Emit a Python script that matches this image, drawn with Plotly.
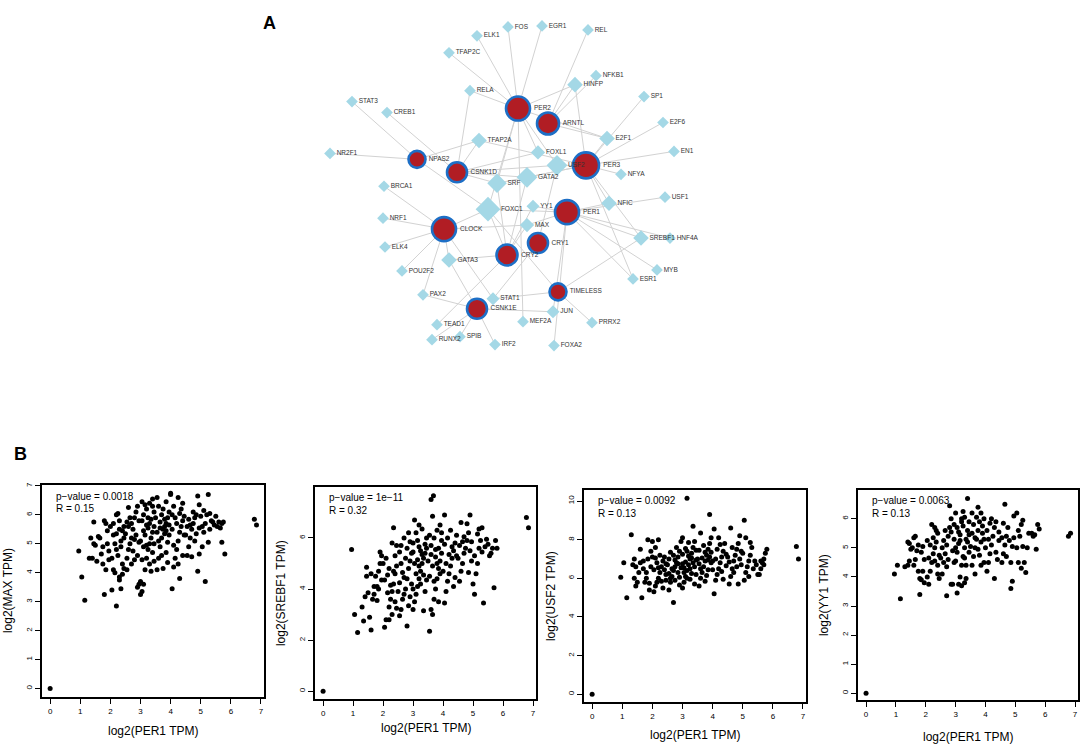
import plotly.graph_objects as go

W, H = 1084, 745
FONT = "Liberation Sans, Arial, sans-serif"

# ---------------- panel A: network ----------------
genes = ["PER2", "ARNTL", "PER3", "NPAS2", "CSNK1D", "PER1", "CLOCK",
         "CRY1", "CRY2", "TIMELESS", "CSNK1E"]
gene_x = [518, 548, 586, 417, 457, 567, 444, 538, 507, 558, 477]
gene_y = [106, 121, 163, 157, 170, 210, 227, 241, 253, 290, 307]
gene_size = [24, 22, 26, 17, 20, 24, 24, 20, 21, 17, 20]

tfs = ["FOS", "EGR1", "ELK1", "REL", "TFAP2C", "NFKB1", "HINFP", "RELA",
       "STAT3", "SP1", "CREB1", "E2F6", "TFAP2A", "E2F1", "NR2F1", "FOXL1",
       "EN1", "USF2", "NFYA", "BRCA1", "SRF", "GATA2", "FOXC1", "YY1",
       "NFIC", "USF1", "NRF1", "MAX", "ELK4", "SREBF1", "HNF4A", "GATA3",
       "POU2F2", "MYB", "ESR1", "PAX2", "STAT1", "JUN", "TEAD1", "MEF2A",
       "PRRX2", "RUNX2", "SPIB", "IRF2", "FOXA2"]
tf_x = [508, 542, 477, 588, 449, 596, 575, 470, 352, 644, 387, 663, 479,
        607, 330, 538, 674, 557, 621, 384, 497, 527, 488, 533, 609, 665,
        383, 527, 385, 641, 670, 449, 402, 657, 633, 423, 493, 553, 437,
        523, 592, 432, 460, 495, 554]
tf_y = [24, 23, 33, 27, 50, 73, 82, 88, 99, 94, 110, 120, 138, 136, 151,
        150, 149, 163, 172, 184, 181, 175, 207, 204, 201, 195, 216, 223,
        245, 236, 236, 258, 269, 268, 277, 293, 297, 310, 323, 320, 321,
        338, 335, 343, 344]
tf_size = [9, 9, 9, 9, 9, 9, 12, 9, 9, 9, 9, 9, 12, 12, 9, 11, 9, 16, 9,
           9, 15, 16, 19, 10, 12, 9, 9, 11, 9, 12, 9, 12, 9, 9, 9, 9, 10,
           10, 9, 9, 9, 9, 9, 9, 9]

edges = [
    ("FOS", "PER2"), ("EGR1", "PER2"), ("ELK1", "PER2"), ("REL", "ARNTL"),
    ("TFAP2C", "PER2"), ("RELA", "CSNK1D"), ("RELA", "PER2"),
    ("STAT3", "NPAS2"), ("CREB1", "CSNK1D"), ("HINFP", "PER2"),
    ("HINFP", "ARNTL"), ("HINFP", "PER3"), ("NFKB1", "ARNTL"),
    ("SP1", "PER3"), ("E2F6", "PER3"), ("E2F1", "ARNTL"), ("E2F1", "PER2"),
    ("E2F1", "PER3"), ("EN1", "PER3"), ("NR2F1", "NPAS2"),
    ("TFAP2A", "NPAS2"), ("TFAP2A", "PER3"), ("TFAP2A", "CSNK1D"),
    ("FOXL1", "PER2"), ("FOXL1", "CSNK1D"), ("USF2", "PER2"),
    ("USF2", "CSNK1D"), ("USF2", "PER3"), ("USF2", "CRY1"),
    ("NFYA", "PER3"), ("BRCA1", "CLOCK"), ("SRF", "PER2"),
    ("SRF", "CSNK1D"), ("SRF", "CRY2"), ("SRF", "PER3"), ("GATA2", "PER3"),
    ("GATA2", "CSNK1D"), ("GATA2", "CRY2"), ("FOXC1", "CLOCK"),
    ("FOXC1", "CRY2"), ("FOXC1", "TIMELESS"), ("FOXC1", "PER1"),
    ("FOXC1", "NPAS2"), ("FOXC1", "PER2"), ("YY1", "PER1"), ("YY1", "CRY2"),
    ("NFIC", "PER1"), ("NFIC", "PER3"), ("USF1", "PER1"), ("NRF1", "CLOCK"),
    ("MAX", "CLOCK"), ("MAX", "PER1"), ("MAX", "CRY2"), ("ELK4", "CLOCK"),
    ("SREBF1", "PER1"), ("SREBF1", "TIMELESS"), ("SREBF1", "PER3"),
    ("HNF4A", "PER1"), ("GATA3", "CRY2"), ("GATA3", "CLOCK"),
    ("GATA3", "CSNK1E"), ("POU2F2", "CLOCK"), ("MYB", "PER1"),
    ("ESR1", "PER1"), ("ESR1", "PER3"), ("PAX2", "CLOCK"),
    ("PAX2", "CSNK1E"), ("STAT1", "TIMELESS"), ("STAT1", "CRY1"),
    ("STAT1", "CLOCK"), ("JUN", "CSNK1E"), ("JUN", "PER1"),
    ("TEAD1", "CRY2"), ("MEF2A", "PER2"), ("PRRX2", "TIMELESS"),
    ("RUNX2", "CSNK1E"), ("SPIB", "CSNK1E"), ("IRF2", "CSNK1E"),
    ("FOXA2", "PER1"),
]

# ---------------- panel B: correlation scatters ----------------
max_pts = [
    (0, 0), (0.95, 4.75), (1.05, 3.85), (1.15, 3.05), (6.78, 5.85), (6.85, 5.65),
    (1.3, 4.5), (1.4, 4.5), (1.45, 5.75), (1.45, 5.0), (1.5, 4.95), (1.35, 5.2),
    (1.55, 4.4), (1.6, 5.25), (1.65, 5.2), (1.7, 4.65), (1.75, 4.3), (1.8, 5.8),
    (1.85, 5.7), (1.8, 3.25), (1.9, 5.0), (1.95, 4.75), (1.9, 5.45), (1.95, 4.45),
    (1.75, 4.9), (1.85, 4.1), (2.0, 5.6),
    (2.2, 2.85), (2.05, 3.4), (2.1, 4.1), (2.15, 4.0), (2.35, 3.45), (2.3, 3.85),
    (2.4, 3.95), (2.2, 6.0), (2.25, 6.05), (2.1, 5.3), (2.15, 5.0), (2.2, 4.8),
    (2.05, 4.5), (2.3, 5.5), (2.35, 5.1), (2.45, 4.15), (2.4, 4.3), (2.3, 5.8),
    (2.45, 5.6), (2.4, 5.45), (2.25, 4.6), (2.35, 4.9), (2.1, 5.7), (2.45, 5.2),
    (2.3, 3.75), (2.2, 5.35),
    (2.95, 3.6), (2.9, 3.5), (2.55, 4.5), (2.6, 4.8), (2.65, 5.0), (2.7, 5.2),
    (2.75, 5.5), (2.8, 5.9), (2.85, 6.1), (2.6, 6.25), (2.7, 5.7), (2.9, 4.6),
    (2.55, 4.1), (2.8, 4.45), (2.6, 5.6), (2.75, 4.75), (2.85, 5.3), (2.95, 5.8),
    (2.5, 5.35), (2.65, 5.9), (2.9, 6.3), (2.7, 4.3), (2.95, 5.05), (2.55, 5.75),
    (2.8, 5.15),
    (3.0, 3.25), (3.05, 3.35), (3.1, 3.6), (3.0, 3.7), (3.15, 4.1), (3.2, 4.5),
    (3.25, 4.8), (3.3, 5.0), (3.35, 5.2), (3.4, 5.4), (3.45, 5.6), (3.05, 5.8),
    (3.1, 6.0), (3.2, 6.2), (3.3, 6.4), (3.4, 6.55), (3.05, 4.45), (3.1, 4.9),
    (3.15, 5.3), (3.25, 5.55), (3.35, 5.85), (3.45, 6.1), (3.0, 5.1), (3.2, 5.65),
    (3.3, 4.3), (3.4, 4.7), (3.45, 5.0), (3.15, 6.35), (3.25, 5.9), (3.35, 4.05),
    (3.1, 5.45), (3.2, 4.95), (3.45, 4.4), (3.05, 6.45), (3.4, 6.3), (3.3, 5.7),
    (3.55, 4.1), (3.6, 4.5), (3.65, 4.9), (3.7, 5.2), (3.75, 5.5), (3.8, 5.6),
    (3.85, 5.7), (3.9, 5.9), (3.95, 6.1), (3.6, 6.3), (4.0, 6.7), (3.55, 5.4),
    (3.65, 5.75), (3.7, 6.0), (3.8, 5.35), (3.85, 4.7), (3.9, 4.35), (3.95, 5.3),
    (3.6, 5.1), (3.75, 6.2), (3.85, 6.45), (3.55, 6.6), (3.7, 4.6), (3.9, 5.05),
    (3.65, 5.55), (3.8, 5.85), (3.95, 5.65), (3.75, 4.15), (3.5, 5.9), (3.85, 5.45),
    (4.05, 3.45), (4.3, 3.8), (4.1, 4.2), (4.15, 4.5), (4.2, 4.8), (4.25, 5.1),
    (4.3, 5.4), (4.35, 5.6), (4.4, 5.8), (4.05, 6.0), (4.1, 6.3), (4.25, 6.6),
    (4.0, 6.75), (4.45, 5.3), (4.2, 5.7), (4.35, 6.2), (4.05, 5.5), (4.4, 4.6),
    (4.15, 5.9), (4.3, 6.05), (4.45, 5.95), (4.1, 4.95), (4.25, 4.3), (4.4, 6.4),
    (4.9, 4.05), (4.55, 4.6), (4.6, 4.9), (4.65, 5.2), (4.7, 5.5), (4.75, 5.7),
    (4.8, 5.9), (4.85, 6.0), (4.9, 6.65), (4.95, 6.35), (4.55, 5.6), (4.6, 5.85),
    (4.7, 4.55), (4.85, 5.35), (4.95, 4.65), (4.5, 5.3), (4.75, 6.1), (4.65, 5.65),
    (4.95, 5.55), (4.8, 5.1),
    (5.15, 3.7), (5.05, 4.9), (5.1, 5.4), (5.15, 5.7), (5.2, 6.0), (5.3, 6.05),
    (5.35, 5.8), (5.25, 5.05), (5.25, 6.7), (5.0, 5.95), (5.05, 5.6), (5.3, 5.5),
    (5.4, 5.75), (5.45, 5.65), (5.1, 6.15),
    (5.55, 5.6), (5.6, 5.75), (5.7, 5.7), (5.7, 5.05), (5.8, 4.65), (5.65, 5.55),
    (5.75, 5.75), (5.5, 5.95),
]

srebf1_pts = [
    (0, 0), (0.95, 5.55), (1.05, 3.0), (1.15, 2.3), (6.78, 6.8), (6.85, 6.4),
    (1.35, 2.75), (1.3, 3.3), (1.4, 3.7), (1.45, 4.5), (1.45, 4.85), (1.5, 3.85),
    (1.6, 2.4), (1.55, 2.9), (1.65, 3.6), (1.7, 4.1), (1.8, 4.1), (1.75, 4.5),
    (1.85, 4.7), (1.9, 5.0), (1.95, 5.3), (1.9, 5.45), (1.7, 3.8), (1.85, 4.0),
    (1.95, 4.35), (1.6, 4.6), (1.8, 3.55),
    (2.05, 2.5), (2.1, 2.8), (2.2, 2.8), (2.2, 3.3), (2.25, 3.6), (2.3, 3.9),
    (2.35, 4.2), (2.4, 4.6), (2.45, 4.9), (2.1, 5.2), (2.3, 5.8), (2.35, 6.4),
    (2.3, 3.0), (2.15, 3.85), (2.05, 4.35), (2.2, 4.8), (2.4, 5.3), (2.45, 5.7),
    (2.0, 5.0), (2.25, 4.15), (2.4, 3.5), (2.15, 4.55), (2.35, 4.7), (2.45, 3.25),
    (2.8, 2.55), (2.55, 2.95), (2.6, 3.2), (2.65, 3.6), (2.7, 3.8), (2.75, 4.0),
    (2.8, 4.4), (2.85, 4.8), (2.9, 5.1), (2.95, 5.4), (2.6, 5.7), (2.7, 6.0),
    (2.85, 6.2), (2.55, 4.25), (2.65, 4.65), (2.75, 5.2), (2.9, 3.7), (2.95, 4.2),
    (2.6, 5.0), (2.8, 5.6), (2.5, 3.9), (2.7, 4.45), (2.9, 5.85), (2.55, 5.45),
    (2.85, 3.35),
    (3.0, 3.2), (3.05, 3.5), (3.1, 3.8), (3.15, 4.1), (3.2, 4.4), (3.25, 4.7),
    (3.3, 5.0), (3.35, 5.2), (3.4, 5.4), (3.45, 5.6), (3.0, 5.8), (3.1, 6.2),
    (3.2, 6.5), (3.05, 6.7), (3.1, 4.6), (3.2, 4.9), (3.3, 5.35), (3.4, 5.75),
    (3.45, 4.35), (3.0, 4.0), (3.15, 5.15), (3.25, 5.5), (3.35, 4.55), (3.45, 6.0),
    (3.05, 5.0), (3.3, 6.35), (3.4, 3.9), (3.15, 5.9), (3.25, 4.2), (3.0, 5.45),
    (3.35, 3.15), (3.2, 5.65),
    (3.55, 2.35), (3.65, 3.0), (3.6, 3.2), (3.7, 3.6), (3.75, 4.0), (3.8, 4.4),
    (3.85, 4.8), (3.9, 5.1), (3.95, 5.4), (3.6, 5.7), (3.7, 6.0), (3.8, 6.3),
    (3.65, 6.85), (3.6, 7.5), (3.68, 7.65), (3.55, 4.5), (3.65, 4.9), (3.75, 5.25),
    (3.85, 5.6), (3.95, 5.9), (3.5, 5.1), (3.7, 4.3), (3.9, 4.6), (3.6, 5.35),
    (3.8, 5.0), (3.95, 6.2), (3.55, 6.1), (3.85, 3.5), (3.75, 5.55), (3.9, 6.5),
    (4.05, 3.45), (4.1, 3.9), (4.15, 4.3), (4.2, 4.6), (4.25, 4.9), (4.3, 5.2),
    (4.35, 5.5), (4.4, 5.8), (4.45, 6.1), (4.05, 6.9), (4.1, 5.0), (4.2, 5.35),
    (4.3, 5.65), (4.0, 4.7), (4.4, 4.45), (4.15, 6.0), (4.25, 6.3), (4.45, 5.3),
    (4.05, 5.75), (4.35, 4.1),
    (4.55, 4.3), (4.6, 4.7), (4.65, 5.0), (4.7, 5.4), (4.75, 5.6), (4.8, 5.9),
    (4.85, 6.2), (4.6, 6.6), (4.9, 6.9), (4.95, 5.1), (4.55, 5.7), (4.7, 6.05),
    (4.85, 4.65), (4.9, 5.5), (4.65, 5.85), (4.5, 5.2), (4.8, 6.55), (4.95, 5.85),
    (5.05, 3.8), (5.35, 3.45), (5.1, 4.6), (5.15, 5.0), (5.2, 5.6), (5.25, 5.9),
    (5.3, 6.4), (5.2, 6.35), (5.05, 5.3), (5.3, 5.45), (5.4, 5.65), (5.15, 6.15),
    (5.45, 5.95), (5.0, 4.2),
    (5.7, 4.05), (5.6, 5.4), (5.65, 5.6), (5.55, 5.3), (5.8, 5.6), (5.75, 5.9),
    (5.5, 5.75),
]

usf2_pts = [
    (0, 0), (0.95, 6.05), (1.05, 6.8), (1.15, 5.0), (6.78, 7.65), (6.85, 7.0),
    (1.3, 8.25), (1.4, 6.0), (1.45, 6.6), (1.4, 7.0), (1.45, 5.6), (1.5, 5.8),
    (1.35, 6.7),
    (1.65, 5.0), (1.55, 6.3), (1.6, 6.8), (1.6, 7.5), (1.7, 6.5), (1.75, 5.8),
    (1.8, 6.0), (1.85, 7.0), (1.9, 5.4), (1.95, 6.6), (1.85, 8.0), (1.7, 6.9),
    (1.95, 7.4), (1.8, 6.3), (1.9, 5.75),
    (2.05, 5.3), (2.1, 5.6), (2.15, 5.8), (2.2, 6.0), (2.25, 6.3), (2.3, 6.6),
    (2.35, 6.9), (2.4, 7.1), (2.1, 7.6), (2.0, 7.9), (2.2, 8.0), (2.45, 6.2),
    (2.05, 6.45), (2.15, 6.8), (2.3, 5.85), (2.4, 6.45), (2.45, 6.75), (2.25, 7.2),
    (2.35, 5.5), (2.0, 7.1), (2.2, 6.55), (2.1, 7.05), (2.45, 5.9),
    (2.7, 4.75), (2.55, 5.4), (2.6, 5.8), (2.65, 6.1), (2.7, 6.4), (2.75, 6.6),
    (2.8, 6.8), (2.85, 7.1), (2.9, 7.4), (2.95, 7.9), (2.6, 6.0), (2.65, 6.5),
    (2.75, 5.9), (2.85, 6.3), (2.5, 6.7), (2.55, 7.0), (2.7, 7.2), (2.9, 6.05),
    (2.95, 6.55), (2.8, 7.6), (2.6, 7.35), (2.9, 5.65), (2.75, 6.95), (2.55, 6.25),
    (2.85, 6.75),
    (3.0, 5.5), (3.05, 5.8), (3.1, 6.1), (3.15, 6.4), (3.2, 6.7), (3.25, 7.0),
    (3.3, 7.3), (3.35, 7.6), (3.4, 7.9), (3.0, 8.1), (3.35, 8.7), (3.15, 10.15),
    (3.05, 6.55), (3.1, 6.85), (3.2, 7.15), (3.3, 6.25), (3.4, 6.6), (3.45, 6.95),
    (3.0, 7.25), (3.1, 7.55), (3.25, 5.95), (3.45, 7.45), (3.2, 7.85), (3.05, 6.3),
    (3.35, 6.8), (3.15, 6.0), (3.4, 5.7), (3.25, 6.5), (3.45, 6.2), (3.3, 7.05),
    (3.0, 6.75), (3.15, 7.4),
    (3.55, 5.6), (3.6, 6.0), (3.65, 6.3), (3.7, 6.6), (3.75, 6.9), (3.8, 7.2),
    (3.85, 7.5), (3.9, 7.8), (3.95, 8.1), (3.6, 8.35), (3.9, 9.3), (3.55, 6.75),
    (3.65, 7.05), (3.75, 7.35), (3.85, 6.45), (3.95, 6.8), (3.5, 7.0), (3.7, 7.7),
    (3.8, 6.15), (3.6, 6.5), (3.9, 7.1), (3.55, 7.45), (3.75, 5.85), (3.85, 6.95),
    (3.95, 7.35),
    (4.05, 5.2), (4.1, 5.9), (4.15, 6.2), (4.2, 6.5), (4.25, 6.8), (4.3, 7.1),
    (4.35, 7.4), (4.4, 7.8), (4.05, 8.55), (4.2, 8.1), (4.45, 6.65), (4.1, 7.0),
    (4.3, 6.35), (4.0, 6.9), (4.35, 5.95), (4.15, 7.5), (4.45, 7.25), (4.25, 7.75),
    (4.0, 6.45),
    (4.55, 5.7), (4.6, 6.1), (4.65, 6.5), (4.7, 6.9), (4.75, 7.2), (4.8, 7.5),
    (4.85, 7.8), (4.9, 8.2), (4.6, 8.6), (4.95, 6.7), (4.55, 6.85), (4.7, 6.3),
    (4.85, 5.7), (4.9, 7.0), (4.65, 7.6), (4.5, 7.1), (4.8, 6.6), (4.95, 7.4),
    (5.05, 5.9), (5.1, 6.3), (5.15, 6.6), (5.2, 6.9), (5.25, 7.2), (5.3, 7.6),
    (5.1, 8.1), (5.05, 9.0), (5.35, 6.5), (5.4, 6.9), (5.2, 6.1), (5.45, 6.7),
    (5.0, 7.3), (5.25, 7.85), (5.5, 6.2),
    (5.55, 6.2), (5.6, 6.5), (5.65, 6.8), (5.7, 7.0), (5.75, 7.3), (5.8, 7.5),
    (5.6, 6.9), (5.7, 6.7),
]

yy1_pts = [
    (0, 0), (0.95, 4.1), (1.05, 4.4), (1.15, 3.25), (6.78, 5.4), (6.85, 5.5),
    (1.3, 4.35), (1.4, 4.4), (1.45, 4.55), (1.45, 5.15), (1.5, 4.95), (1.4, 5.2),
    (1.8, 3.4), (1.85, 3.9), (1.8, 3.95), (1.75, 4.2), (1.6, 4.4), (1.65, 4.6),
    (1.7, 4.9), (1.75, 5.1), (1.6, 5.35), (1.65, 5.4), (1.9, 4.2), (1.95, 4.6),
    (1.85, 4.85), (1.9, 5.05), (1.95, 3.8), (1.55, 5.0),
    (2.1, 3.75), (2.05, 4.0), (2.15, 4.2), (2.2, 4.5), (2.25, 4.8), (2.3, 5.0),
    (2.35, 5.2), (2.4, 5.5), (2.2, 5.8), (2.3, 5.7), (2.45, 3.95), (2.4, 4.4),
    (2.1, 4.65), (2.15, 5.1), (2.25, 5.35), (2.45, 4.75), (2.35, 5.6), (2.05, 5.25),
    (2.4, 4.1), (2.3, 4.55),
    (2.7, 3.35), (2.85, 3.75), (2.55, 4.1), (2.6, 4.5), (2.65, 4.8), (2.7, 5.1),
    (2.75, 5.4), (2.8, 5.7), (2.85, 6.0), (2.8, 6.45), (2.6, 5.25), (2.65, 5.6),
    (2.75, 4.6), (2.9, 4.9), (2.95, 5.3), (2.55, 5.0), (2.9, 3.75), (2.95, 5.8),
    (2.7, 4.35), (2.85, 5.55), (2.5, 4.65), (2.95, 4.5),
    (3.05, 3.45), (3.1, 3.75), (3.2, 3.7), (3.15, 4.0), (3.2, 4.4), (3.25, 4.7),
    (3.3, 5.0), (3.35, 5.3), (3.4, 5.6), (3.45, 5.9), (3.0, 6.2), (3.4, 6.7),
    (3.05, 4.85), (3.1, 5.15), (3.15, 5.45), (3.25, 5.75), (3.3, 6.05), (3.0, 4.55),
    (3.35, 4.4), (3.45, 4.85), (3.1, 5.55), (3.2, 5.9), (3.3, 4.65), (3.4, 5.2),
    (3.0, 5.0), (3.25, 6.25), (3.15, 5.25), (3.45, 5.45), (3.05, 5.7), (3.35, 3.95),
    (3.2, 6.0), (3.3, 3.8),
    (3.65, 4.1), (3.55, 4.4), (3.6, 4.7), (3.65, 5.0), (3.7, 5.3), (3.75, 5.6),
    (3.8, 5.9), (3.85, 6.2), (3.75, 6.4), (3.55, 5.5), (3.6, 5.8), (3.7, 6.05),
    (3.8, 4.75), (3.85, 5.2), (3.9, 5.5), (3.95, 4.5), (3.5, 5.05), (3.9, 5.75),
    (3.65, 5.35), (3.95, 6.0), (3.55, 6.2), (3.85, 4.4), (3.75, 4.95), (3.95, 5.3),
    (4.3, 3.95), (4.05, 4.2), (4.1, 4.5), (4.15, 4.8), (4.2, 5.1), (4.25, 5.4),
    (4.3, 5.7), (4.35, 5.9), (4.05, 5.6), (4.4, 4.6), (4.45, 5.25), (4.0, 5.0),
    (4.2, 6.0), (4.1, 5.3), (4.35, 4.85), (4.45, 5.55), (4.15, 5.85),
    (4.85, 3.6), (4.9, 3.85), (4.55, 4.5), (4.6, 4.8), (4.65, 5.1), (4.7, 5.4),
    (4.75, 5.7), (4.65, 6.5), (4.95, 6.1), (4.85, 4.5), (4.9, 5.05), (4.55, 5.35),
    (4.8, 5.25), (4.95, 5.35), (4.6, 5.85), (4.7, 4.7),
    (5.35, 4.15), (5.2, 4.3), (5.1, 4.5), (5.05, 5.0), (5.15, 5.4), (5.2, 5.8),
    (5.05, 6.2), (5.25, 5.05), (5.3, 4.5), (5.1, 5.6), (5.25, 5.95), (5.45, 5.5),
    (5.4, 5.0),
    (5.7, 4.95), (5.6, 5.4), (5.55, 5.5), (5.75, 5.8), (5.8, 5.65), (5.65, 5.45),
]

y_titles = ["log2(MAX TPM)", "log2(SREBF1 TPM)", "log2(USF2 TPM)", "log2(YY1 TPM)"]
p_values = ["0.0018", "1e\u221211", "0.0092", "0.0063"]
r_values = ["0.15", "0.32", "0.13", "0.13"]
y_ranges = [(-0.3, 7.03), (-0.31, 7.99), (-0.41, 10.57), (-0.24, 6.99)]
y_dticks = [1, 2, 2, 1]

# pixel boxes of the four scatter frames: left, right, top, bottom
boxes = [(42, 264, 484, 697), (315, 536, 486, 699),
         (584, 806, 489, 702), (858, 1078, 489, 700)]
x_title_y = [731, 728, 735, 737]
y_title_x = [8, 281, 551, 824]


def px(x):
    return x / W


def py(y):
    return 1 - y / H


fig = go.Figure()

# edges
name_pos = {n: (x, y) for n, x, y in zip(genes, gene_x, gene_y)}
name_pos.update({n: (x, y) for n, x, y in zip(tfs, tf_x, tf_y)})
ex, ey = [], []
for a, b in edges:
    ex += [name_pos[a][0], name_pos[b][0], None]
    ey += [name_pos[a][1], name_pos[b][1], None]
fig.add_trace(go.Scatter(x=ex, y=ey, mode="lines", hoverinfo="skip",
                         line=dict(color="#d2d2d2", width=1),
                         xaxis="x", yaxis="y"))

fig.add_trace(go.Scatter(
    x=tf_x, y=tf_y, mode="markers", hovertext=tfs, hoverinfo="text",
    marker=dict(symbol="diamond", size=tf_size, color="#a4d8e6",
                opacity=1, line=dict(width=0)),
    xaxis="x", yaxis="y"))

fig.add_trace(go.Scatter(
    x=gene_x, y=gene_y, mode="markers", hovertext=genes, hoverinfo="text",
    marker=dict(symbol="circle", size=gene_size, color="#b11d24",
                opacity=1, line=dict(width=2.6, color="#1d6fc6")),
    xaxis="x", yaxis="y"))

# node labels on top of every node (hidden markers keep the text offset)
fig.add_trace(go.Scatter(
    x=tf_x + gene_x, y=tf_y + gene_y, mode="markers+text", text=tfs + genes,
    textposition="middle right", hoverinfo="skip",
    textfont=dict(family=FONT, size=6.5, color="#333333"),
    marker=dict(size=tf_size + gene_size, color="white", opacity=0,
                line=dict(width=0)),
    xaxis="x", yaxis="y"))

layout = dict(
    width=W, height=H,
    margin=dict(l=0, r=0, t=0, b=0),
    paper_bgcolor="white", plot_bgcolor="white",
    showlegend=False,
    font=dict(family=FONT, color="black"),
    xaxis=dict(domain=[0, 1], range=[0, W], visible=False, fixedrange=True),
    yaxis=dict(domain=[py(400), 1], range=[400, 0], visible=False,
               fixedrange=True),
)

annotations = [
    dict(text="<b>A</b>", x=px(269), y=py(20), xref="paper", yref="paper",
         xanchor="center", yanchor="middle",
         showarrow=False, font=dict(size=18, family=FONT)),
    dict(text="<b>B</b>", x=px(20), y=py(453), xref="paper", yref="paper",
         xanchor="center", yanchor="middle",
         showarrow=False, font=dict(size=18, family=FONT)),
]

panels = [max_pts, srebf1_pts, usf2_pts, yy1_pts]
for i, pts in enumerate(panels):
    k = i + 2
    left, right, top, bottom = boxes[i]
    xs = [p[0] for p in pts]
    ys = [p[1] for p in pts]
    fig.add_trace(go.Scatter(
        x=xs, y=ys, mode="markers",
        marker=dict(size=5, color="black", opacity=1),
        xaxis=f"x{k}", yaxis=f"y{k}"))
    layout[f"xaxis{k}"] = dict(
        domain=[px(left), px(right)], range=[-0.27, 7.1], anchor=f"y{k}",
        tickmode="linear", tick0=0, dtick=1, ticks="outside", ticklen=5,
        tickwidth=1.3, tickcolor="black", showline=True, mirror=True,
        linecolor="black", linewidth=1.6, showgrid=False, zeroline=False,
        tickfont=dict(size=8, family=FONT), fixedrange=True)
    layout[f"yaxis{k}"] = dict(
        domain=[py(bottom), py(top)], range=list(y_ranges[i]),
        anchor=f"x{k}", tickmode="linear", tick0=0, dtick=y_dticks[i],
        ticks="outside", ticklen=5, tickwidth=1.3, tickcolor="black",
        tickangle=-90, showline=True, mirror=True, linecolor="black",
        linewidth=1.6, showgrid=False, zeroline=False,
        tickfont=dict(size=8, family=FONT), fixedrange=True)
    annotations += [
        dict(text=f"p\u2212value = {p_values[i]}", x=px(left + 12),
             y=py(top + 11), xref="paper", yref="paper", xanchor="left",
             yanchor="middle", showarrow=False,
             font=dict(size=10, family=FONT)),
        dict(text=f"R = {r_values[i]}", x=px(left + 12), y=py(top + 24),
             xref="paper", yref="paper", xanchor="left", yanchor="middle",
             showarrow=False, font=dict(size=10, family=FONT)),
        dict(text="log2(PER1 TPM)", x=px((left + right) / 2),
             y=py(x_title_y[i]), xref="paper", yref="paper",
             xanchor="center", yanchor="middle",
             showarrow=False, font=dict(size=12, family=FONT)),
        dict(text=y_titles[i], x=px(y_title_x[i]),
             y=py((top + bottom) / 2), xref="paper", yref="paper",
             xanchor="center", yanchor="middle",
             textangle=-90, showarrow=False,
             font=dict(size=12, family=FONT)),
    ]

layout["annotations"] = annotations
fig.update_layout(**layout)

# the page body has a default 8px margin; drop it so the figure fills the window
fig.write_html("out.html", config={"displayModeBar": False},
               post_script="document.body.style.margin='0';")
